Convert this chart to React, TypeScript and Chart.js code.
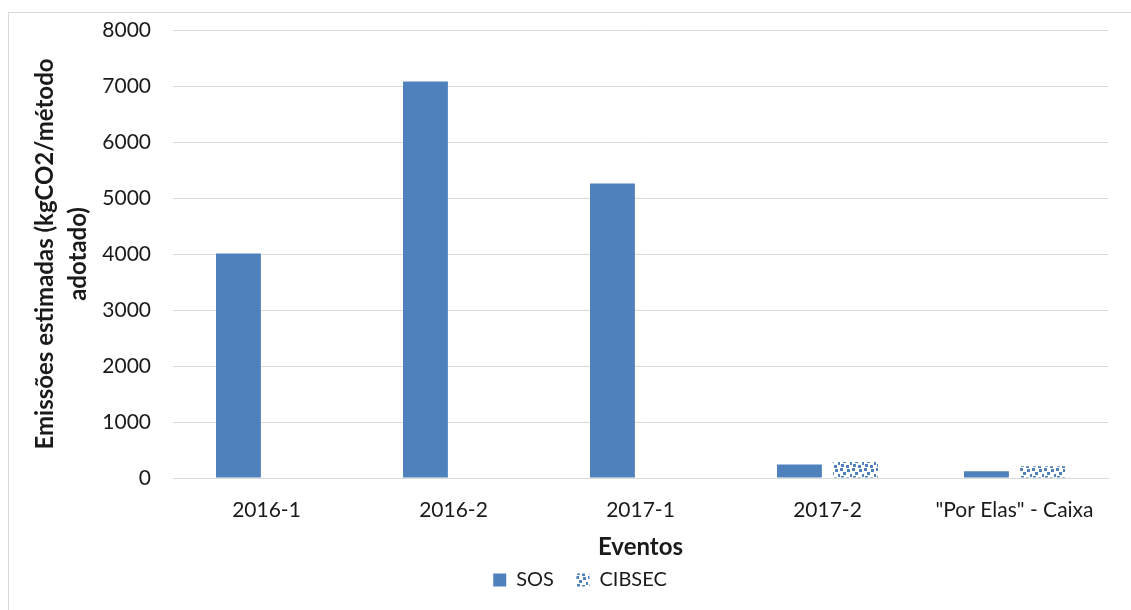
import React, { useEffect, useRef } from "react";
import { Chart, registerables } from "chart.js";

Chart.register(...registerables);

const categories = ["2016-1", "2016-2", "2017-1", "2017-2", "\"Por Elas\" - Caixa"];
const sosValues: (number | null)[] = [4010, 7080, 5260, 240, 120];
const cibsecValues: (number | null)[] = [null, null, null, 285, 210];
const seriesNames = ["SOS", "CIBSEC"];
const yMin = 0;
const yMax = 8000;
const yStep = 1000;

const BLUE = "#4f81bd";
const TEXT = "#1a1a1a";
const FONT = "Lato, 'Open Sans', sans-serif";
const LEFT_PAD = 52;

function makePattern(): CanvasPattern | string {
  const c = document.createElement("canvas");
  c.width = 12;
  c.height = 12;
  const g = c.getContext("2d");
  if (!g) return BLUE;
  g.fillStyle = "#ffffff";
  g.fillRect(0, 0, 12, 12);
  g.fillStyle = BLUE;
  const squares = [
    [0, 0], [7, 1], [3, 4], [10, 6], [1, 8], [6, 9],
  ];
  squares.forEach(([x, y]) => g.fillRect(x, y, 3, 3));
  const p = g.createPattern(c, "repeat");
  return p || BLUE;
}

export default function App() {
  const ref = useRef<HTMLCanvasElement | null>(null);

  useEffect(() => {
    if (!ref.current) return;
    const pattern = makePattern();
    const chart = new Chart(ref.current, {
      type: "bar",
      data: {
        labels: categories,
        datasets: [
          {
            label: seriesNames[0],
            data: sosValues,
            backgroundColor: BLUE,
            borderWidth: 0,
            categoryPercentage: 0.6,
            barPercentage: 0.8,
          },
          {
            label: seriesNames[1],
            data: cibsecValues,
            backgroundColor: pattern as any,
            borderWidth: 0,
            categoryPercentage: 0.6,
            barPercentage: 0.8,
          },
        ],
      },
      options: {
        responsive: false,
        animation: false,
        layout: { padding: { left: LEFT_PAD, right: 23, top: 30, bottom: 10 } },
        plugins: {
          tooltip: { enabled: false },
          title: { display: false },
          legend: {
            display: true,
            position: "bottom",
            labels: {
              boxWidth: 13,
              boxHeight: 13,
              padding: 2,
              color: TEXT,
              font: { family: FONT, size: 20 },
              generateLabels: (ch: any) => {
                const items = Chart.defaults.plugins.legend.labels.generateLabels(ch);
                items.forEach((it: any, i: number) => {
                  if (i === 0) it.text = it.text + "    ";
                  it.lineWidth = 0;
                });
                return items;
              },
            },
          },
        },
        scales: {
          x: {
            grid: { display: false },
            border: { display: true, color: "#d9d9d9", width: 1 },
            ticks: {
              color: TEXT,
              font: { family: FONT, size: 21 },
              padding: 12,
              maxRotation: 0,
              autoSkip: false,
            },
            title: {
              display: true,
              text: "Eventos",
              color: TEXT,
              font: { family: FONT, size: 24, weight: "bold" },
              padding: { top: 0, bottom: 6 },
            },
            afterFit: (scale: any) => {
              scale.height = 90;
            },
          },
          y: {
            min: yMin,
            max: yMax,
            grid: { color: "#d9d9d9", lineWidth: 1, drawTicks: false },
            border: { display: false },
            ticks: {
              stepSize: yStep,
              color: TEXT,
              font: { family: FONT, size: 21 },
              padding: 22,
              callback: (v: any) => String(v),
            },
            title: {
              display: true,
              text: ["Emissões estimadas (kgCO2/método", "adotado)"],
              color: TEXT,
              font: { family: FONT, size: 24, weight: "bold", lineHeight: 1.375 },
              padding: { top: -23, bottom: 0 },
            },
            afterFit: (scale: any) => {
              scale.width = 173 - LEFT_PAD;
              scale.paddingTop = 0;
              scale.paddingBottom = 0;
            },
          },
        },
      },
    });
    return () => chart.destroy();
  }, []);

  return (
    <>
      <div
        style={{
          position: "fixed",
          left: 8,
          top: 12,
          width: 1123,
          height: 598,
          borderTop: "1px solid #d9d9d9",
          borderLeft: "1px solid #d9d9d9",
          boxSizing: "border-box",
          background: "#fff",
        }}
      />
      <canvas
        ref={ref}
        width={1131}
        height={610}
        style={{ position: "fixed", left: 0, top: 0, width: 1131, height: 610 }}
      />
    </>
  );
}
